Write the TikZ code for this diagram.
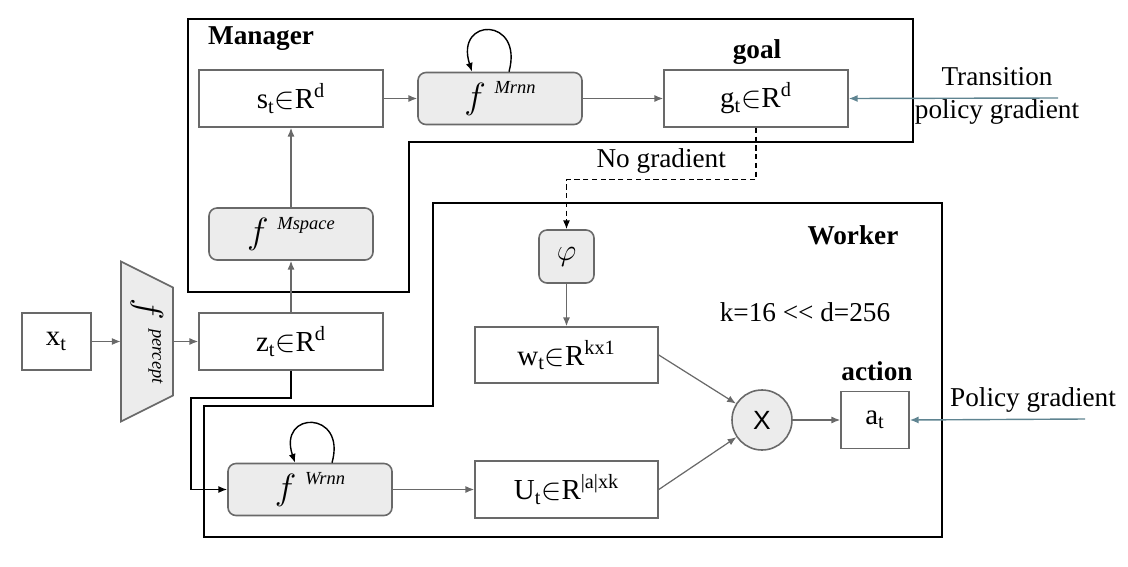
\documentclass[tikz,border=0pt]{standalone}
\usepackage{fontspec}
\setmainfont{Liberation Serif}
\newfontfamily\xfont{Liberation Sans}
\usetikzlibrary{positioning,arrows.meta}
\definecolor{boxgray}{RGB}{105,105,105}
\definecolor{fillgray}{RGB}{236,236,236}
\definecolor{gradblue}{RGB}{95,132,145}
\newcommand{\fsup}[1]{{\fontsize{21}{22}\selectfont$f$}\hspace{0.3em}\raisebox{0.5em}{\fontsize{10.5}{12}\selectfont\textit{#1}}}
\tikzset{
  box/.style={draw=boxgray, line width=0.9pt, inner sep=0pt, minimum width=3.68cm, minimum height=1.14cm, font=\fontsize{16.5}{18}\selectfont},
  fbox/.style={box, fill=fillgray, rounded corners=0.16cm, minimum width=3.28cm, minimum height=1.04cm},
  partline/.style={draw=black, line width=1pt},
  flow/.style={->, color=boxgray, line width=0.7pt},
  selfloop/.style={->, draw=black, line width=0.8pt},
  grad/.style={->, color=gradblue, line width=0.8pt},
  lbl/.style={font=\fontsize{15.5}{18.8}\selectfont},
  heading/.style={font=\bfseries\fontsize{15.5}{18.8}\selectfont},
}
\begin{document}
\begin{tikzpicture}[>={Latex[length=5pt,width=4pt]}]
  \useasboundingbox (0,0) rectangle (22.56,-11.34);
  % manager and worker outlines
  \draw[partline] (3.76,-0.38) -- (18.26,-0.38) -- (18.26,-2.84) -- (8.18,-2.84) -- (8.18,-5.84) -- (3.76,-5.84) -- cycle;
  \draw[partline] (8.66,-4.06) -- (18.84,-4.06) -- (18.84,-10.74) -- (4.08,-10.74) -- (4.08,-8.12) -- (8.66,-8.12) -- cycle;
  \node[heading] (mgr) at (5.22,-0.78) {Manager};
  \node[heading] (wkr) at (17.06,-4.7) {Worker};

  % manager
  \node[box] (st) at (5.82,-1.97) {s\textsubscript{t}$\in$R\textsuperscript{d}};
  \node[fbox] (mrnn) [right of=st, node distance=4.18cm] {\fsup{Mrnn}};
  \node[box] (gt) [right of=mrnn, node distance=5.12cm] {g\textsubscript{t}$\in$R\textsuperscript{d}};
  \node[heading] (goal) at (15.14,-1.04) {goal};
  \node[fbox] (mspace) [below of=st, node distance=2.71cm] {\fsup{Mspace}};
  \node[box] (zt) [below of=st, node distance=4.86cm] {z\textsubscript{t}$\in$R\textsuperscript{d}};

  % perception
  \coordinate[left of=zt, node distance=2.88cm] (pc);
  \draw[fill=fillgray, draw=boxgray, line width=0.9pt] ([shift={(-0.52,1.6)}]pc) -- ([shift={(0.52,1.08)}]pc)
    -- ([shift={(0.52,-1.08)}]pc) -- ([shift={(-0.52,-1.6)}]pc) -- cycle;
  \node[inner sep=0pt, minimum width=1.04cm, minimum height=3.2cm] (percept) at (pc)
    {\rotatebox{-90}{\fontsize{16.5}{18}\selectfont\fsup{percept}}};
  \node[box, minimum width=1.38cm] (xt) [left of=zt, node distance=4.69cm] {x\textsubscript{t}};

  % worker
  \node[fbox, minimum width=1.1cm, minimum height=1.06cm] (phi) at (11.33,-5.13) {$\varphi$};
  \node[box, minimum width=3.66cm, minimum height=1.12cm] (wt) [below of=phi, node distance=1.97cm] {w\textsubscript{t}$\in$R\textsuperscript{kx1}};
  \node[box, minimum width=3.66cm] (ut) [below of=wt, node distance=2.69cm] {U\textsubscript{t}$\in$R\textsuperscript{|a|xk}};
  \node[fbox] (wrnn) [left of=ut, node distance=5.13cm] {\fsup{Wrnn}};
  \node[circle, draw=boxgray, fill=fillgray, line width=0.9pt, minimum size=1.2cm, inner sep=0pt,
        font=\xfont\fontsize{15}{17}\selectfont] (mult) at (15.24,-8.4) {X};
  \node[box, minimum width=1.36cm] (act) [right of=mult, node distance=2.26cm] {a\textsubscript{t}};
  \node[heading] (action) at (17.54,-7.42) {action};
  \node[lbl] (kd) at (16.1,-6.24) {k=16 <{}< d=256};

  % gradients
  \node[lbl, align=center] (tpg) at (19.94,-1.92) {Transition\\policy gradient};
  \node[lbl] (pg) at (20.66,-8.0) {Policy gradient};
  \coordinate (tsrc) at (21.16,-1.96);
  \coordinate (psrc) at (21.7,-8.38);

  \path[flow] (xt) edge (percept)
              (percept) edge (zt)
              (zt) edge (mspace)
              (mspace) edge (st)
              (st) edge (mrnn)
              (mrnn) edge (gt)
              (phi) edge (wt)
              (wt.east) edge (mult)
              (ut.east) edge (mult)
              (wrnn) edge (ut)
              (mult) edge (act);
  \path[grad] (tsrc) edge (gt.east)
              (psrc) edge (act.east);

  \draw[->, dash pattern=on 3pt off 2pt, line width=0.8pt] (gt.south) -- ++(0,-1.04)
    -| node[pos=0.25, above, lbl] (nograd) {No gradient} (phi.north);
  \draw[->, line width=0.9pt] (zt.south) -- ++(0,-0.54) -| ([xshift=-0.72cm]wrnn.west) -- (wrnn.west);

  \draw[selfloop] ([xshift=0.18cm]mrnn.north) .. controls +(0.3,1.1) and +(-0.35,1.1) .. ([xshift=-0.56cm]mrnn.north);
  \draw[selfloop] ([xshift=0.44cm]wrnn.north) .. controls +(0.3,1.05) and +(-0.35,1.05) .. ([xshift=-0.3cm]wrnn.north);
\end{tikzpicture}
\end{document}
